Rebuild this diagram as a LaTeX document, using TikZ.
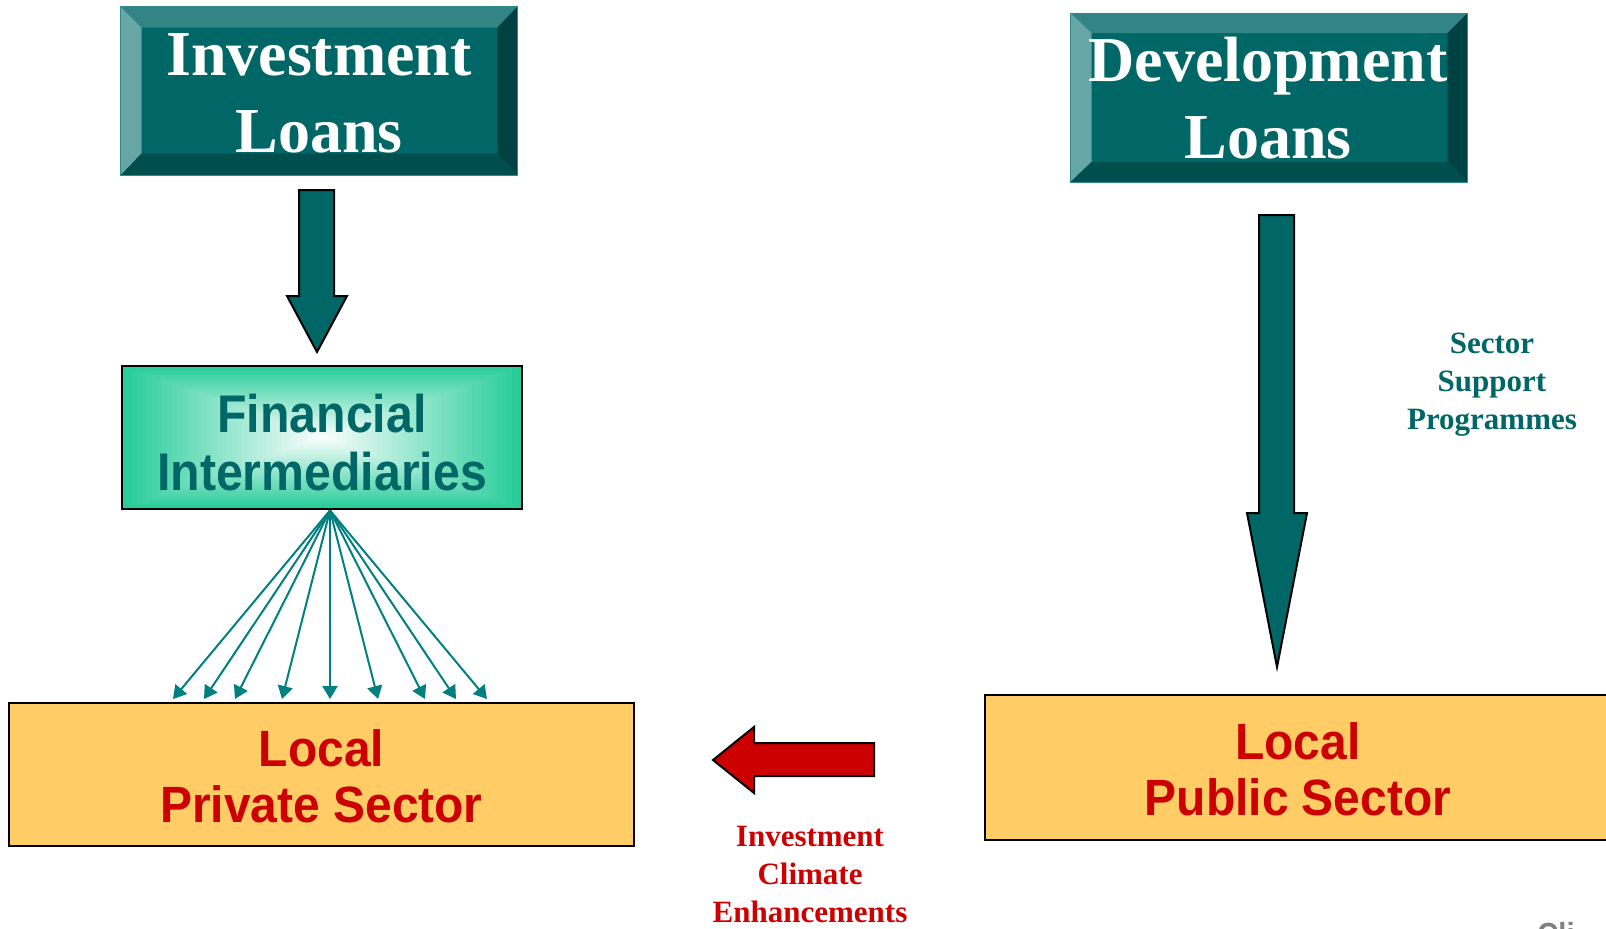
\documentclass[tikz,border=0pt]{standalone}
\usepackage{fontspec}
\setmainfont{Liberation Serif}
\newfontfamily\sansc[FakeStretch=0.91]{Liberation Sans}
\newfontfamily\sanscw[FakeStretch=0.94]{Liberation Sans}
\usetikzlibrary{calc,arrows.meta}
\definecolor{face}{HTML}{006666}
\definecolor{bTop}{HTML}{338585}
\definecolor{bLeft}{HTML}{66A6A6}
\definecolor{bRight}{HTML}{004242}
\definecolor{bBot}{HTML}{004F4F}
\definecolor{bEdge}{HTML}{2E8B8B}
\definecolor{fgreen}{RGB}{38,204,153}
\definecolor{sand}{HTML}{FFCC66}
\definecolor{dred}{HTML}{CC0000}
\definecolor{tline}{HTML}{008080}
\tikzset{
  bevelbox/.style={fill=face, draw=bEdge, line width=0.5pt, inner sep=0pt, minimum width=198pt, minimum height=84pt},
  loantext/.style={text=white, font=\bfseries\fontsize{32}{38.5}\selectfont, align=center, inner sep=0pt, anchor=base},
  sandbox/.style={fill=sand, draw=black, line width=1pt, inner sep=0pt, minimum width=312.5pt, minimum height=71.5pt},
  sectortext/.style={text=dred, font=\sanscw\bfseries\fontsize{25.5}{28}\selectfont, align=center, inner sep=0pt, anchor=base},
  blockarrow/.style={draw=black, line width=1pt, line join=miter},
  fanarrow/.style={draw=tline, line width=1pt, -{Triangle[length=6.5pt,width=7.5pt]}},
  notetext/.style={font=\bfseries\fontsize{15.5}{19}\selectfont, align=center, inner sep=0pt, anchor=base}
}
\begin{document}
\begin{tikzpicture}[x=0.5pt,y=-0.5pt]
\useasboundingbox (0,0) rectangle (1606,928);
\begin{scope}
\clip (0,0) rectangle (1606,928);

% Investment Loans bevel box
\node[bevelbox] (inv) at (319,91) {};
\fill[bTop] (inv.north west) -- (inv.north east) -- ($(inv.north east)+(-20,21)$) -- ($(inv.north west)+(21,21)$) -- cycle;
\fill[bLeft] (inv.north west) -- ($(inv.north west)+(21,21)$) -- ($(inv.south west)+(21,-22)$) -- (inv.south west) -- cycle;
\fill[bRight] (inv.north east) -- ($(inv.north east)+(-20,21)$) -- ($(inv.south east)+(-20,-22)$) -- (inv.south east) -- cycle;
\fill[bBot] (inv.south west) -- ($(inv.south west)+(21,-22)$) -- ($(inv.south east)+(-20,-22)$) -- (inv.south east) -- cycle;
\draw[bEdge, line width=0.5pt] (inv.north west) rectangle (inv.south east);
\node[loantext] (invT) at (319,152) {Investment\\Loans};

% Development Loans bevel box
\node[bevelbox] (dev) at (1269,97.5) {};
\fill[bTop] (dev.north west) -- (dev.north east) -- ($(dev.north east)+(-20,20)$) -- ($(dev.north west)+(21,20)$) -- cycle;
\fill[bLeft] (dev.north west) -- ($(dev.north west)+(21,20)$) -- ($(dev.south west)+(21,-20)$) -- (dev.south west) -- cycle;
\fill[bRight] (dev.north east) -- ($(dev.north east)+(-20,20)$) -- ($(dev.south east)+(-20,-20)$) -- (dev.south east) -- cycle;
\fill[bBot] (dev.south west) -- ($(dev.south west)+(21,-20)$) -- ($(dev.south east)+(-20,-20)$) -- (dev.south east) -- cycle;
\draw[bEdge, line width=0.5pt] (dev.north west) rectangle (dev.south east);
\node[loantext] (devT) at (1268,158) {Development\\Loans};

% Financial Intermediaries (rectangular gradient)
\node[inner sep=0pt, minimum width=200pt, minimum height=71.5pt] (fi) at (322,437.5) {};
\foreach \i in {40,39,...,1}{
  \pgfmathsetmacro{\t}{\i/40}
  \pgfmathsetmacro{\p}{100*\t}
  \fill[fgreen!\p!white] ($(fi.center)+(-200*\t,-71.5*\t)$) rectangle ($(fi.center)+(200*\t,71.5*\t)$);
}
\draw[black, line width=1pt] (fi.north west) rectangle (fi.south east);
\node[text=face, font=\sansc\bfseries\fontsize{26.5}{29}\selectfont, align=center, inner sep=0pt, anchor=base] (fiT) at (322,490) {Financial\\Intermediaries};

% Local Private Sector
\node[sandbox] (priv) at (321.5,774.5) {};
\node[sectortext] (privT) at (321.5,822) {Local\\Private Sector};

% Local Public Sector
\node[sandbox, minimum width=313pt, minimum height=72.5pt] (pub) at (1298,767.5) {};
\node[sectortext] (pubT) at (1298,815) {Local\\Public Sector};

% block arrows
\fill[face] (299,190) -- (334,190) -- (334,296) -- (347,296) -- (317,352) -- (287,296) -- (299,296) -- cycle;
\draw[blockarrow] (299,190) -- (334,190) -- (334,296) -- (347,296) -- (317,352) -- (287,296) -- (299,296) -- cycle;
\fill[face] (1259,215) -- (1294,215) -- (1294,513) -- (1307,513) -- (1277,667) -- (1247,513) -- (1259,513) -- cycle;
\draw[blockarrow] (1259,215) -- (1294,215) -- (1294,513) -- (1307,513) -- (1277,667) -- (1247,513) -- (1259,513) -- cycle;
\fill[dred] (874,743) -- (754,743) -- (754,727) -- (713,760) -- (754,793) -- (754,776) -- (874,776) -- cycle;
\draw[blockarrow] (874,743) -- (754,743) -- (754,727) -- (713,760) -- (754,793) -- (754,776) -- (874,776) -- cycle;

% fan of arrows
\coordinate (fanO) at ($(fi.south)+(8,1)$);
\foreach \dx in {-157,-126,-95,-48,0,48,95,126,157}{
  \draw[fanarrow] (fanO) -- ($(priv.north)+(8.5+\dx,-3)$);
}

% labels
\node[notetext, text=face] (ssp) at (1492,429) {Sector\\Support\\Programmes};
\node[notetext, text=dred] (ice) at (810,922) {Investment\\Climate\\Enhancements};

% cut-off footer text
\node[text=gray, font=\sansc\bfseries\fontsize{16}{16}\selectfont, anchor=north west, inner sep=0pt] (foot) at (1537,922) {Cli};
\end{scope}
\end{tikzpicture}
\end{document}
